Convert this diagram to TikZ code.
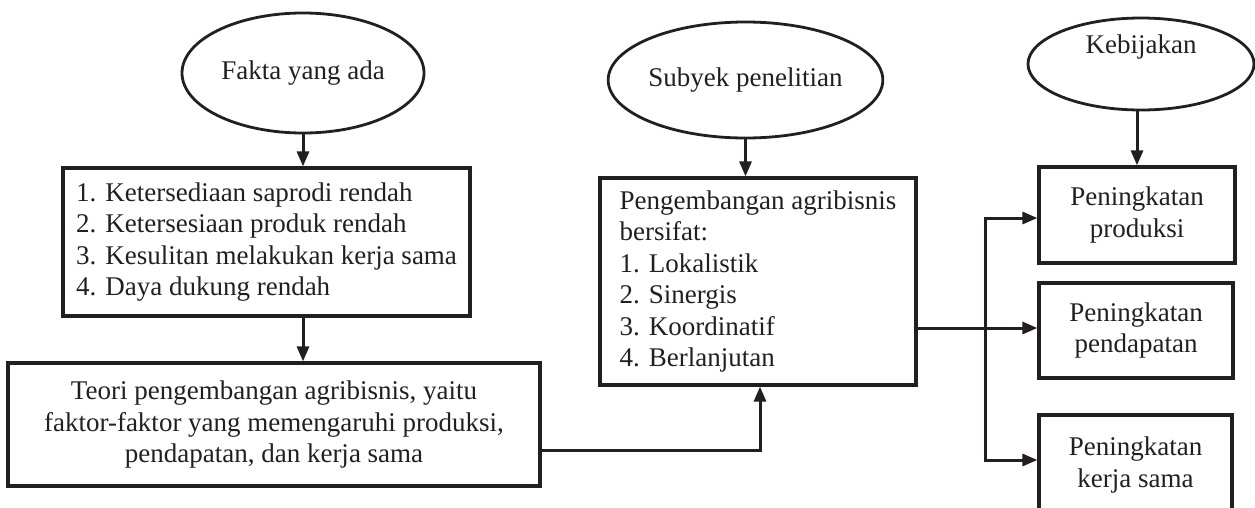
\documentclass[tikz,border=0pt]{standalone}
\usepackage{fontspec}
\setmainfont{Liberation Serif}
\usetikzlibrary{shapes.geometric,arrows.meta}
\definecolor{ink}{RGB}{35,31,32}
\begin{document}
\begin{tikzpicture}[x=1pt,y=-1pt,
  every node/.style={font=\fontsize{27}{31.5}\selectfont, text=ink},
  oval/.style={draw=ink, ellipse, line width=2.8pt, inner sep=0pt},
  box/.style={draw=ink, rectangle, line width=3.2pt, inner sep=0pt},
  arr/.style={draw=ink, line width=3pt, -{Triangle[length=15pt,width=12pt]}}]
\useasboundingbox (0,0) rectangle (1255,507);

% ellipses
\node[oval, minimum width=242, minimum height=120] (e1) at (303,73) {Fakta yang ada};
\node[oval, minimum width=241, minimum height=116] (e2) at (745.5,80) {Subyek penelitian};
\node[oval, minimum width=226, minimum height=92, text height=19pt, text depth=40pt] (e3) at (1141,64) {Kebijakan};

% boxes
\node[box, minimum width=407, minimum height=148, align=left] (b1) at (266.5,242)
  {1. Ketersediaan saprodi rendah\\2. Ketersesiaan produk rendah\\3. Kesulitan melakukan kerja sama\\4. Daya dukung rendah};
\node[box, minimum width=532, minimum height=123, align=center] (b2) at (274,424.5)
  {Teori pengembangan agribisnis, yaitu\\faktor-faktor yang memengaruhi produksi,\\pendapatan, dan kerja sama};
\node[box, minimum width=316, minimum height=207, align=left] (b3) at (758,281.5)
  {Pengembangan agribisnis\\bersifat:\\1. Lokalistik\\2. Sinergis\\3. Koordinatif\\4. Berlanjutan};
\node[box, minimum width=196, minimum height=96, align=center] (p1) at (1137,215)
  {Peningkatan\\produksi};
\node[box, minimum width=194, minimum height=95, align=center] (p2) at (1136,330.5)
  {Peningkatan\\pendapatan};
\node[box, minimum width=193, minimum height=100, align=center] (p3) at (1135.5,465)
  {Peningkatan\\kerja sama};

% connectors
\draw[arr] (e1.south) -- (e1.south |- b1.north);
\draw[arr] (e1.south |- b1.south) -- (e1.south |- b2.north);
\coordinate (j1) at (760,450);
\draw[arr] (b2.east |- j1) -- (j1) -- (j1 |- b3.south);
\draw[arr] (e2.south) -- (e2.south |- b3.north);
\draw[arr] (p1.north |- e3.south) -- (p1.north);
\coordinate (sp) at (985,328);
\coordinate (t1) at (985,218);
\coordinate (t3) at (985,460);
\draw[arr] (b3.east |- sp) -- (p2.west |- sp);
\draw[arr] (sp) -- (t1) -- (p1.west |- t1);
\draw[arr] (sp) -- (t3) -- (p3.west |- t3);
\end{tikzpicture}
\end{document}
